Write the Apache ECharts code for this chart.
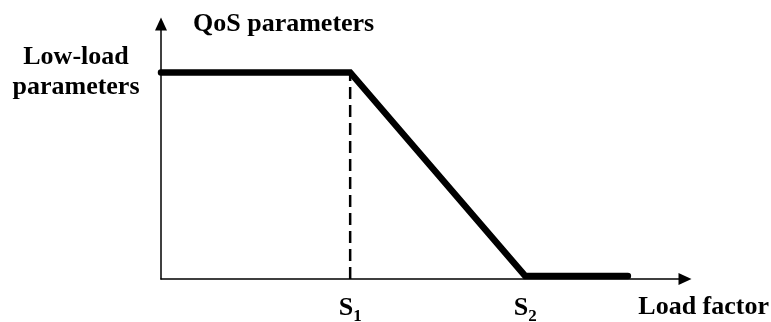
<!DOCTYPE html>
<html>
<head>
<meta charset="utf-8">
<script src="https://cdn.jsdelivr.net/npm/echarts@6/dist/echarts.min.js"></script>
<style>html,body{margin:0;padding:0;background:#fff}#c{width:771px;height:322px}</style>
</head>
<body>
<div id="c"></div>
<script>
// Data (axis units: 0..100 on both axes)
const loadX = [0, 36.1, 69.5, 89.1];
const qosY = [81, 81, 1.2, 1.2];
const thresholdX = [36.1, 69.5];
const thresholdNames = ['S1', 'S2'];
const lowLoadLevel = 81;
const xAxisName = 'Load factor';
const yAxisName = 'QoS parameters';
const lowLoadLabel = 'Low-load\nparameters';

const FONT = "'Liberation Serif','Times New Roman',serif";
const chart = echarts.init(document.getElementById('c'), null, {renderer: 'canvas'});

const curve = loadX.map((x, i) => [x, qosY[i]]);
const dashed = [[thresholdX[0], 0], [thresholdX[0], lowLoadLevel]];

chart.setOption({
  animation: false,
  backgroundColor: '#fff',
  grid: {left: 161, right: 86, top: 24, bottom: 43, outerBoundsMode: 'none', containLabel: false},
  xAxis: {
    type: 'value', min: 0, max: 100,
    name: xAxisName, nameLocation: 'end', nameGap: 84,
    nameTextStyle: {fontFamily: FONT, fontWeight: 'bold', fontSize: 26, color: '#000', align: 'right', verticalAlign: 'top', padding: [15, 0, 0, 0]},
    axisLine: {show: true, lineStyle: {color: '#000', width: 1.5}, symbol: ['none', 'triangle'], symbolSize: [12, 13]},
    axisTick: {show: false},
    splitLine: {show: false},
    axisLabel: {
      customValues: thresholdX,
      margin: 16,
      formatter: function (v) {
        const i = thresholdX.indexOf(v);
        const n = thresholdNames[i] || '';
        return '{s|' + n.charAt(0) + '}{sub|' + n.slice(1) + '}';
      },
      rich: {
        s: {fontFamily: FONT, fontWeight: 'bold', fontSize: 26, color: '#000', verticalAlign: 'top', padding: [0, 0, 4, 0]},
        sub: {fontFamily: FONT, fontWeight: 'bold', fontSize: 17, color: '#000', verticalAlign: 'bottom'}
      }
    }
  },
  yAxis: {
    type: 'value', min: 0, max: 100,
    name: yAxisName, nameLocation: 'end', nameGap: 0,
    nameTextStyle: {fontFamily: FONT, fontWeight: 'bold', fontSize: 26, color: '#000', align: 'left', verticalAlign: 'middle', padding: [0, 0, 0, 32]},
    axisLine: {show: true, lineStyle: {color: '#000', width: 1.5}, symbol: ['none', 'triangle'], symbolSize: [12, 13]},
    axisTick: {show: false},
    splitLine: {show: false},
    axisLabel: {
      customValues: [lowLoadLevel],
      formatter: function () { return lowLoadLabel; },
      align: 'center',
      margin: 85,
      fontFamily: FONT, fontWeight: 'bold', fontSize: 26, color: '#000', lineHeight: 30
    }
  },
  series: [
    {
      type: 'line', data: dashed, symbol: 'none', silent: true,
      lineStyle: {color: '#000', width: 2.5, type: [12, 6]}
    },
    {
      type: 'line', data: curve, symbol: 'none', silent: true,
      lineStyle: {color: '#000', width: 6.5, cap: 'round', join: 'miter'}
    }
  ]
});
</script>
</body>
</html>
